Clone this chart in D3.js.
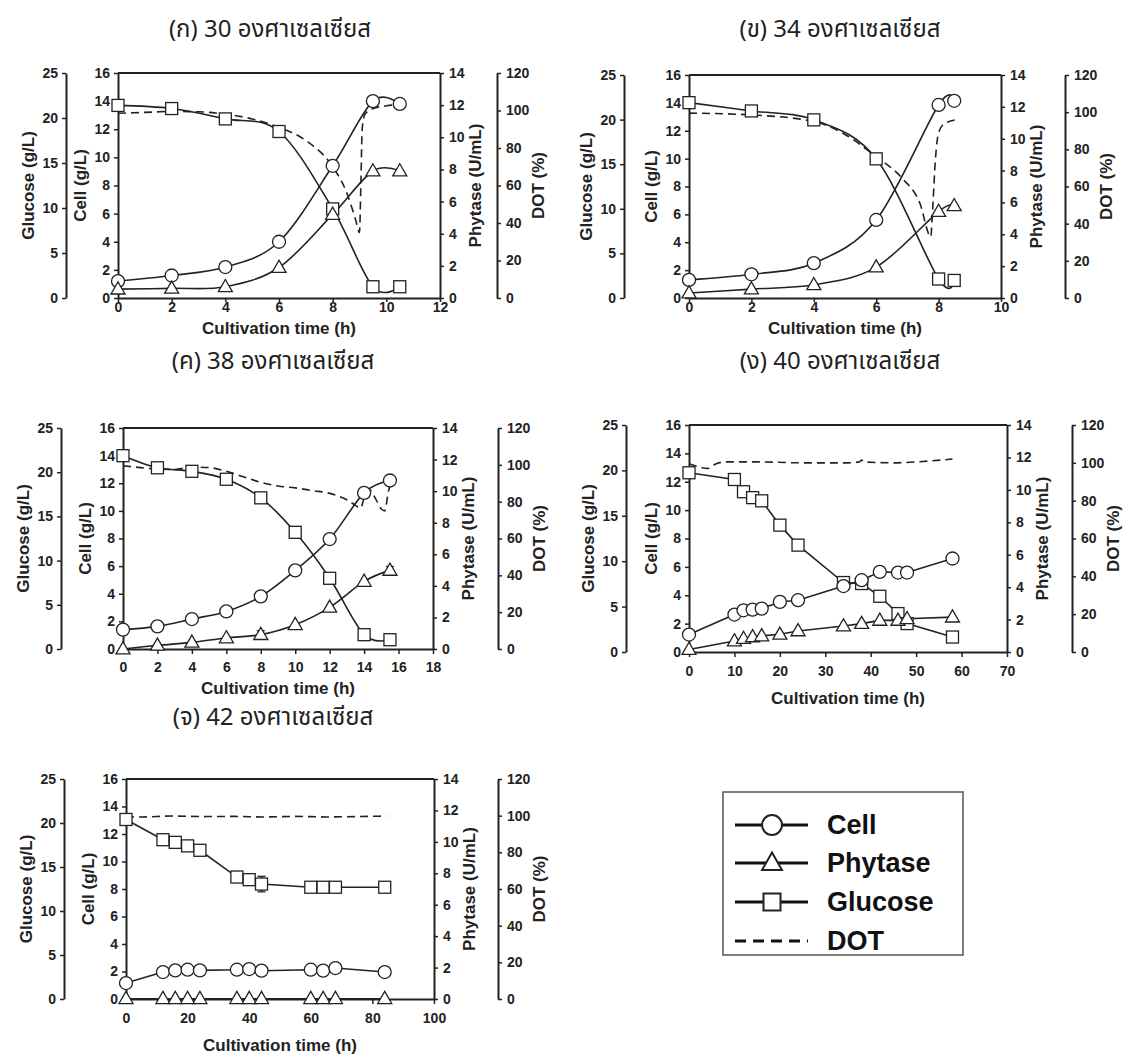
<!DOCTYPE html>
<html>
<head>
<meta charset="utf-8">
<script src="https://cdn.jsdelivr.net/npm/d3@7"></script>
<style>
  body { margin: 0; background: #fff; }
  svg { display: block; }
  .axis text { font-family: "Liberation Sans", Arial, sans-serif; font-weight: bold; font-size: 14px; fill: #222; }
  .axis path, .axis line { stroke: #222; }
  .axis path { stroke-width: 2; }
  .axis line { stroke-width: 1.5; }
  .atitle { font-family: "Liberation Sans", Arial, sans-serif; font-weight: bold; font-size: 17px; fill: #222; }
  .ptitle { font-family: Tahoma, "Leelawadee UI", "Noto Sans Thai", "Noto Sans", sans-serif; font-size: 24px; fill: #222; }
  .legend text { font-family: "Liberation Sans", Arial, sans-serif; font-weight: bold; font-size: 27px; fill: #111; }
</style>
</head>
<body>
<svg id="chart" width="1130" height="1057"></svg>
<script>
// ---- Panel titles ----
const panelTitles = ["(ก) 30 องศาเซลเซียส", "(ข) 34 องศาเซลเซียส", "(ค) 38 องศาเซลเซียส", "(ง) 40 องศาเซลเซียส", "(จ) 42 องศาเซลเซียส"];
const xMaxes = [12, 10, 18, 70, 100];
const xSteps = [2, 2, 2, 10, 20];
const cellTicks = [0, 2, 4, 6, 8, 10, 12, 14, 16];
const glucoseTicks = [0, 5, 10, 15, 20, 25];
const phytaseTicks = [0, 2, 4, 6, 8, 10, 12, 14];
const dotTicks = [0, 20, 40, 60, 80, 100, 120];
const legendLabels = ["Cell", "Phytase", "Glucose", "DOT"];

// ---- (ก) 30 °C ----
const timeA = [0, 2, 4, 6, 8, 9.5, 10.5];
const cellA = [1.2, 1.6, 2.2, 4.0, 9.4, 14.0, 13.8];
const phytaseA = [0.55, 0.6, 0.7, 1.9, 5.2, 7.9, 7.9];
const glucoseA = [21.4, 21.05, 19.9, 18.5, 9.9, 1.25, 1.25];
const dotTimeA = [0, 1, 2, 3, 4, 5, 6, 7, 8, 8.5, 8.85, 9.0, 9.05, 9.1, 9.2, 9.5, 10, 10.6];
const dotA = [98.5, 99, 99.5, 99.3, 98, 95.5, 91, 84, 70, 57, 42, 35, 60, 90, 98, 101, 102.5, 103.3];

// ---- (ข) 34 °C ----
const timeB = [0, 2, 4, 6, 8, 8.5];
const cellB = [1.3, 1.7, 2.5, 5.6, 13.85, 14.15];
const cellErrB = [0, 0.25, 0, 0, 0, 0];
const phytaseB = [0.31, 0.56, 0.83, 1.94, 5.43, 5.79];
const glucoseB = [21.9, 20.97, 19.97, 15.6, 2.13, 1.97];
const dotTimeB = [0, 2, 4, 5, 6, 6.8, 7.4, 7.75, 7.8, 7.9, 8.0, 8.2, 8.6];
const dotB = [99.5, 98.5, 95, 88, 76, 65, 51, 33, 45, 75, 89, 94, 96];

// ---- (ค) 38 °C ----
const timeC = [0, 2, 4, 6, 8, 10, 12, 14, 15.5];
const cellC = [1.4, 1.64, 2.17, 2.72, 3.81, 5.69, 7.96, 11.3, 12.2];
const cellErrC = [0, 0, 0, 0, 0, 0, 0, 0, 0.3];
const phytaseC = [0.0, 0.23, 0.42, 0.7, 0.91, 1.54, 2.64, 4.28, 4.98];
const phytaseErrC = [0, 0, 0, 0, 0.25, 0, 0, 0, 0.25];
const glucoseC = [21.87, 20.5, 20.1, 19.2, 17.1, 13.2, 8.0, 1.62, 1.05];
const dotTimeC = [0, 1, 2, 3, 4, 5, 6, 7, 8, 9, 10, 11, 12, 12.5, 13, 13.5, 13.8, 14.0, 14.3, 14.7, 15.0, 15.2, 15.4, 15.6];
const dotC = [99.5, 98.5, 97.7, 97.5, 98.8, 98.5, 96.5, 93.5, 90.5, 88.5, 87.5, 86, 84.5, 83, 81, 78, 76.5, 82, 86.5, 81, 76, 75, 85, 92];

// ---- (ง) 40 °C ----
const timeD = [0, 10, 12, 14, 16, 20, 24, 34, 38, 42, 46, 48, 58];
const cellD = [1.23, 2.64, 2.94, 2.99, 3.06, 3.53, 3.65, 4.65, 5.06, 5.65, 5.6, 5.6, 6.59];
const cellErrD = [0, 0, 0.25, 0, 0, 0, 0, 0, 0, 0.2, 0, 0, 0.25];
const phytaseD = [0.15, 0.68, 0.83, 0.93, 0.99, 1.09, 1.3, 1.6, 1.75, 1.95, 1.95, 2.05, 2.15];
const glucoseD = [19.74, 19.0, 17.65, 17.0, 16.65, 13.97, 11.77, 7.65, 7.54, 6.14, 4.23, 3.13, 1.65];
const dotTimeD = [0, 2, 4, 6, 8, 15, 25, 35, 37.5, 38, 38.5, 45, 50, 58];
const dotD = [99.5, 98, 97, 99.5, 100.5, 100.5, 100, 100, 100.5, 101.5, 100.5, 100, 100.5, 102];

// ---- (จ) 42 °C ----
const timeE = [0, 12, 16, 20, 24, 36, 40, 44, 60, 64, 68, 84];
const cellE = [1.16, 1.96, 2.08, 2.13, 2.08, 2.13, 2.18, 2.06, 2.13, 2.06, 2.25, 1.96];
const phytaseE = [0.02, 0.02, 0.02, 0.02, 0.02, 0.02, 0.02, 0.02, 0.02, 0.02, 0.02, 0.02];
const glucoseE = [20.4, 18.1, 17.8, 17.4, 16.9, 13.86, 13.56, 13.06, 12.7, 12.7, 12.7, 12.7];
const glucoseErrE = [0, 0, 0, 0, 0, 0.3, 0, 0.88, 0, 0, 0, 0];
const dotTimeE = [0, 5, 15, 25, 35, 45, 55, 65, 75, 84.5];
const dotE = [99.3, 99.3, 99.8, 99.5, 99.6, 99.3, 99.6, 99.3, 99.5, 99.8];

const svg = d3.select("#chart");
const INK = "#222";

// frame geometry of each panel
const frames = [
  { gx: 66,  left: 118, right: 440,  top: 73,  bottom: 298, dx: 497,  tx: 270, ty: 37,  tickSize: 4, tickPad: 0, titleDy: 36, smooth: true },
  { gx: 624, left: 689, right: 1001, top: 75,  bottom: 298, dx: 1065, tx: 840, ty: 37,  tickSize: 4, tickPad: 0, titleDy: 36, smooth: true },
  { gx: 61,  left: 123, right: 433,  top: 428, bottom: 649, dx: 498,  tx: 273, ty: 369, tickSize: 5, tickPad: 8, titleDy: 45, smooth: true },
  { gx: 626, left: 689, right: 1007, top: 425, bottom: 652, dx: 1072, tx: 840, ty: 369, tickSize: 5, tickPad: 9, titleDy: 52, smooth: false },
  { gx: 64,  left: 126, right: 434,  top: 779, bottom: 999, dx: 498,  tx: 273, ty: 725, tickSize: 5, tickPad: 9, titleDy: 52, smooth: false }
];

const series = [
  { t: timeA, cell: cellA, phy: phytaseA, glu: glucoseA, dt: dotTimeA, dot: dotA },
  { t: timeB, cell: cellB, cellErr: cellErrB, phy: phytaseB, glu: glucoseB, dt: dotTimeB, dot: dotB },
  { t: timeC, cell: cellC, cellErr: cellErrC, phy: phytaseC, phyErr: phytaseErrC, glu: glucoseC, dt: dotTimeC, dot: dotC },
  { t: timeD, cell: cellD, cellErr: cellErrD, phy: phytaseD, glu: glucoseD, dt: dotTimeD, dot: dotD },
  { t: timeE, cell: cellE, phy: phytaseE, glu: glucoseE, gluErr: glucoseErrE, dt: dotTimeE, dot: dotE }
];

function circleMark(sel, r) {
  sel.append("circle").attr("r", r).attr("fill", "#fff").attr("stroke", INK).attr("stroke-width", 1.3);
}
function squareMark(sel, s) {
  sel.append("rect").attr("x", -s / 2).attr("y", -s / 2).attr("width", s).attr("height", s)
    .attr("fill", "#fff").attr("stroke", INK).attr("stroke-width", 1.3);
}
function triangleMark(sel, s) {
  const h = s * 0.866;
  sel.append("path").attr("d", `M0,${-h * 0.6}L${s / 2},${h * 0.4}L${-s / 2},${h * 0.4}Z`)
    .attr("fill", "#fff").attr("stroke", INK).attr("stroke-width", 1.3);
}

function drawPanel(f, s, i) {
  const g = svg.append("g");
  const x = d3.scaleLinear().domain([0, xMaxes[i]]).range([f.left, f.right]);
  const yCell = d3.scaleLinear().domain([0, 16]).range([f.bottom, f.top]);
  const yPhy = d3.scaleLinear().domain([0, 14]).range([f.bottom, f.top]);
  const yGlu = d3.scaleLinear().domain([0, 25]).range([f.bottom, f.top]);
  const yDot = d3.scaleLinear().domain([0, 120]).range([f.bottom, f.top]);
  const midY = (f.top + f.bottom) / 2;

  // panel title
  g.append("text").attr("class", "ptitle").attr("x", f.tx).attr("y", f.ty)
    .attr("text-anchor", "middle").text(panelTitles[i]);

  // top edge of the frame
  g.append("line").attr("x1", f.left).attr("x2", f.right).attr("y1", f.top).attr("y2", f.top)
    .attr("stroke", INK).attr("stroke-width", 2);

  // axes
  g.append("g").attr("class", "axis").attr("transform", `translate(0,${f.bottom})`)
    .call(d3.axisBottom(x).tickValues(d3.range(0, xMaxes[i] + 0.001, xSteps[i])).tickSize(f.tickSize).tickSizeOuter(0).tickPadding(f.tickPad));
  g.append("g").attr("class", "axis").attr("transform", `translate(${f.left},0)`)
    .call(d3.axisLeft(yCell).tickValues(cellTicks).tickSize(4).tickSizeOuter(0).tickPadding(4));
  g.append("g").attr("class", "axis").attr("transform", `translate(${f.right},0)`)
    .call(d3.axisRight(yPhy).tickValues(phytaseTicks).tickSize(4).tickSizeOuter(0).tickPadding(5));
  g.append("g").attr("class", "axis").attr("transform", `translate(${f.gx},0)`)
    .call(d3.axisLeft(yGlu).tickValues(glucoseTicks).tickSize(4).tickSizeOuter(0).tickPadding(4));
  g.append("g").attr("class", "axis").attr("transform", `translate(${f.dx},0)`)
    .call(d3.axisRight(yDot).tickValues(dotTicks).tickSize(4).tickSizeOuter(0).tickPadding(5));

  // axis titles
  const rot = (tx, label) => g.append("text").attr("class", "atitle")
    .attr("transform", `translate(${tx},${midY}) rotate(-90)`)
    .attr("text-anchor", "middle").attr("dominant-baseline", "central").text(label);
  rot(f.gx - 38, "Glucose (g/L)");
  rot(f.left - 38, "Cell (g/L)");
  rot(f.right + 35, "Phytase (U/mL)");
  rot(f.dx + 41, "DOT (%)");
  g.append("text").attr("class", "atitle").attr("x", (f.left + f.right) / 2).attr("y", f.bottom + f.titleDy)
    .attr("text-anchor", "middle").text("Cultivation time (h)");

  const curve = f.smooth ? d3.curveCatmullRom.alpha(0) : d3.curveLinear;

  // DOT trace
  const dotPts = s.dt.map((t, k) => [x(t), yDot(s.dot[k])]);
  g.append("path").attr("d", d3.line().curve(d3.curveMonotoneX)(dotPts))
    .attr("fill", "none").attr("stroke", INK).attr("stroke-width", 1.6).attr("stroke-dasharray", "8,5");

  const lines = [
    { v: s.glu, y: yGlu, err: s.gluErr, mark: (sel) => squareMark(sel, 12) },
    { v: s.cell, y: yCell, err: s.cellErr, mark: (sel) => circleMark(sel, 6.5) },
    { v: s.phy, y: yPhy, err: s.phyErr, mark: (sel) => triangleMark(sel, 14) }
  ];
  lines.forEach(L => {
    const pts = s.t.map((t, k) => [x(t), L.y(L.v[k])]);
    g.append("path").attr("d", d3.line().curve(curve)(pts))
      .attr("fill", "none").attr("stroke", INK).attr("stroke-width", 1.6);
  });
  lines.forEach(L => {
    s.t.forEach((t, k) => {
      const e = L.err ? L.err[k] : 0;
      if (e > 0) {
        const cx = x(t), y1 = L.y(L.v[k] - e), y2 = L.y(L.v[k] + e);
        g.append("line").attr("x1", cx).attr("x2", cx).attr("y1", y1).attr("y2", y2).attr("stroke", INK).attr("stroke-width", 1.3);
        [y1, y2].forEach(yy => g.append("line").attr("x1", cx - 4).attr("x2", cx + 4).attr("y1", yy).attr("y2", yy)
          .attr("stroke", INK).attr("stroke-width", 1.3));
      }
      const m = g.append("g").attr("transform", `translate(${x(t)},${L.y(L.v[k])})`);
      L.mark(m);
    });
  });
}

frames.forEach((f, i) => drawPanel(f, series[i], i));

// legend
const lg = svg.append("g").attr("class", "legend");
lg.append("rect").attr("x", 723).attr("y", 792).attr("width", 240).attr("height", 163)
  .attr("fill", "#fff").attr("stroke", "#555").attr("stroke-width", 1.5);
const legendY = [825, 863, 902, 941];
legendLabels.forEach((lab, k) => {
  const yy = legendY[k];
  lg.append("line").attr("x1", 735).attr("x2", 808).attr("y1", yy).attr("y2", yy)
    .attr("stroke", "#111").attr("stroke-width", 3)
    .attr("stroke-dasharray", k === 3 ? "11,7" : null);
  const m = lg.append("g").attr("transform", `translate(772,${yy})`);
  if (k === 0) circleMark(m, 10);
  if (k === 1) triangleMark(m, 20);
  if (k === 2) squareMark(m, 17);
  m.selectAll("*").attr("stroke-width", 2);
  lg.append("text").attr("x", 827).attr("y", yy).attr("dominant-baseline", "central").text(lab);
});
</script>
</body>
</html>
